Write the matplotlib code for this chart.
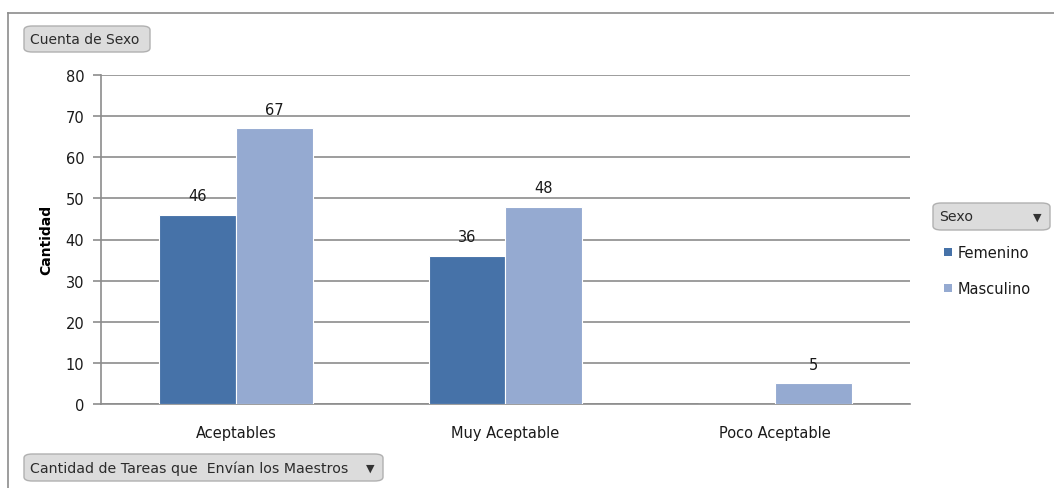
import matplotlib
matplotlib.use("Agg")
import matplotlib.pyplot as plt
from matplotlib.patches import FancyBboxPatch
from matplotlib.lines import Line2D
import numpy as np

categories = ["Aceptables", "Muy Aceptable", "Poco Aceptable"]
femenino = [46, 36, 0]
masculino = [67, 48, 5]
series_names = ["Femenino", "Masculino"]
yticks = [0, 10, 20, 30, 40, 50, 60, 70, 80]

W, H = 1054, 489
fig = plt.figure(figsize=(W / 100, H / 100), dpi=100)
fig.patch.set_facecolor("white")

def fx(px):
    return px / W

def fy(py):
    return 1 - py / H

# outer frame lines
fig.add_artist(Line2D([fx(8), 1.0], [fy(14), fy(14)], color="#8c8c8c", lw=1.2))
fig.add_artist(Line2D([fx(8), fx(8)], [fy(14), 0.0], color="#8c8c8c", lw=1.2))

ax = fig.add_axes([fx(101), fy(405), fx(910) - fx(101), fy(76) - fy(405)])
c_fem = "#4672A8"
c_mas = "#95AAD1"
x = np.arange(len(categories))
bw = 0.285
b1 = ax.bar(x - bw / 2, femenino, bw, color=c_fem, edgecolor="white", linewidth=0.8, zorder=3)
b2 = ax.bar(x + bw / 2, masculino, bw, color=c_mas, edgecolor="white", linewidth=0.8, zorder=3)

for bars, vals in [(b1, femenino), (b2, masculino)]:
    for rect, v in zip(bars, vals):
        if v > 0:
            ax.text(rect.get_x() + rect.get_width() / 2, v + 2.8, str(v), ha="center", va="bottom",
                    fontsize=10.5, color="#1a1a1a", zorder=4)

ax.set_xlim(-0.5, 2.5)
ax.set_ylim(0, 80)
ax.set_yticks(yticks)
ax.set_yticklabels([str(t) for t in yticks], fontsize=10.5, color="#1a1a1a")
ax.set_xticks(x)
ax.set_xticklabels(categories, fontsize=10.5, color="#1a1a1a")
ax.tick_params(axis="x", length=0, pad=15)
ax.tick_params(axis="y", length=6, color="#8c8c8c", width=1.2, pad=6)
ax.yaxis.grid(True, color="#8c8c8c", linewidth=1.2, zorder=0)
ax.set_axisbelow(True)
for s in ["top", "right"]:
    ax.spines[s].set_visible(False)
ax.spines["left"].set_color("#8c8c8c")
ax.spines["left"].set_linewidth(1.2)
ax.spines["bottom"].set_color("#8c8c8c")
ax.spines["bottom"].set_linewidth(1.2)
fig.text(fx(46), fy(240), "Cantidad", rotation=90, fontsize=10, fontweight="bold",
         ha="center", va="center", color="black")

def button(x0, y0, x1, y1, label, arrow=False, fs=10.2):
    p = FancyBboxPatch((fx(x0), fy(y1)), fx(x1) - fx(x0), fy(y0) - fy(y1),
                       boxstyle="round,pad=0,rounding_size=0.008",
                       transform=fig.transFigure, facecolor="#dcdcdc",
                       edgecolor="#b0b0b0", linewidth=1.0)
    fig.add_artist(p)
    fig.text(fx(x0 + 6), fy((y0 + y1) / 2), label, fontsize=fs, color="#2b2b2b",
             ha="left", va="center")
    if arrow:
        fig.text(fx(x1 - 13), fy((y0 + y1) / 2), "▼", fontsize=8, color="#333333",
                 ha="center", va="center")

button(24, 27, 150, 53, "Cuenta de Sexo", fs=10)
button(933, 204, 1050, 231, "Sexo", arrow=True)
button(24, 455, 383, 482, "Cantidad de Tareas que  Envían los Maestros", arrow=True)

# legend
for name, col, py in zip(series_names, [c_fem, c_mas], [253, 289]):
    fig.add_artist(FancyBboxPatch((fx(944), fy(py + 4)), fx(8) - fx(0), fy(0) - fy(8),
                                  boxstyle="square,pad=0", transform=fig.transFigure,
                                  facecolor=col, edgecolor="none"))
    fig.text(fx(958), fy(py), name, fontsize=10.5, color="#1a1a1a", ha="left", va="center")

fig.savefig("out.png", dpi=100, facecolor="white")
